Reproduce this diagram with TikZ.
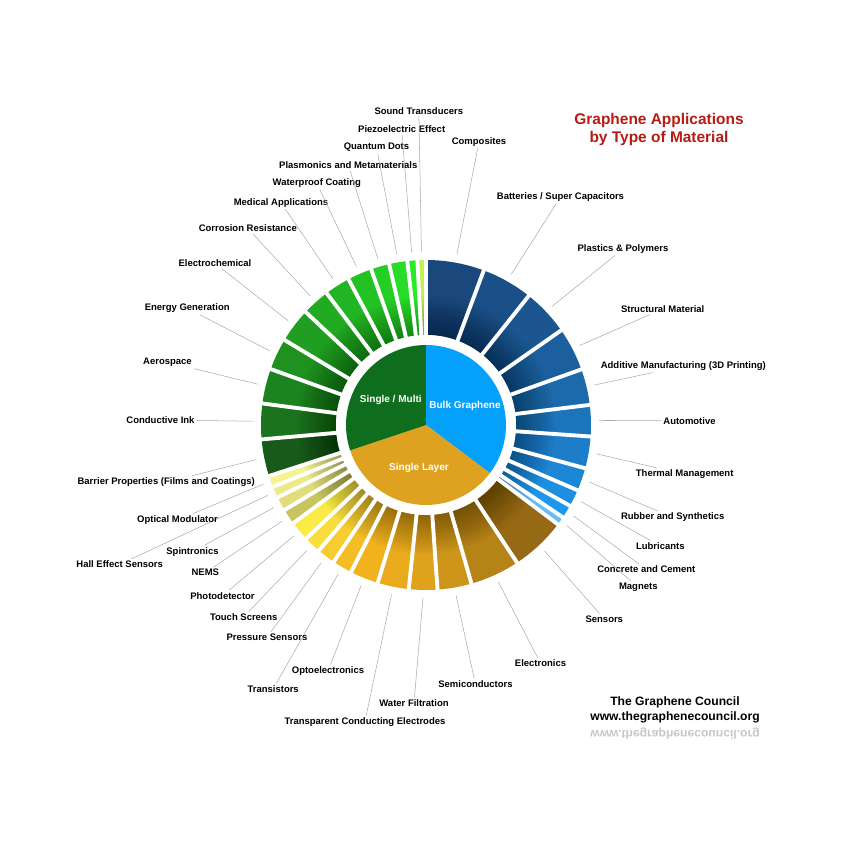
\documentclass[tikz,border=0pt]{standalone}
\usepackage{fontspec}
\setmainfont{Liberation Sans}
\definecolor{bulkdark}{RGB}{26,72,125}
\definecolor{bulklight}{RGB}{30,150,235}
\definecolor{magnetblue}{RGB}{100,190,245}
\definecolor{bulkblue}{RGB}{5,160,250}
\definecolor{darkgold}{RGB}{150,105,20}
\definecolor{amber}{RGB}{242,178,30}
\definecolor{brightyellow}{RGB}{250,235,70}
\definecolor{oliveyellow}{RGB}{200,196,95}
\definecolor{paleyellow}{RGB}{245,242,145}
\definecolor{layergold}{RGB}{222,162,32}
\definecolor{darkgreen}{RGB}{24,90,26}
\definecolor{brightgreen}{RGB}{40,235,40}
\definecolor{limegreen}{RGB}{195,240,80}
\definecolor{multigreen}{RGB}{15,110,30}
\definecolor{titlered}{RGB}{180,28,20}

% name / start angle / end angle / colour / label / label x / label y
\newcommand{\applist}{%
composites/90/69.5/bulkdark/Composites/53/283.3,
batteries/69.5/51.5/bulklight!8!bulkdark/{Batteries / Super Capacitors}/134.5/228,
plastics/51.5/35/bulklight!18!bulkdark/Plastics \& Polymers/197/176,
structural/35/19.7/bulklight!30!bulkdark/Structural Material/236.7/116,
additive/19.7/7/bulklight!42!bulkdark/Additive Manufacturing (3D Printing)/257.3/59,
automotive/7/-4/bulklight!56!bulkdark/Automotive/263.5/4.3,
thermal/-4/-15.2/bulklight!68!bulkdark/Thermal Management/258.7/-49.3,
rubber/-15.2/-23.3/bulklight!80!bulkdark/Rubber and Synthetics/246.7/-92.3,
lubricants/-23.3/-29.3/bulklight!90!bulkdark/Lubricants/234.3/-121,
concrete/-29.3/-34/bulklight/Concrete and Cement/220.3/-144.3,
magnets/-34/-37/magnetblue/Magnets/212.3/-162.3,
sensors/-37/-56.5/darkgold/Sensors/178.3/-194,
electronics/-56.5/-74/amber!35!darkgold/Electronics/114.5/-238.3,
semiconductors/-74/-86/amber!60!darkgold/Semiconductors/49.5/-259.3,
water/-86/-96/amber!78!darkgold/Water Filtration/-12/-278,
electrodes/-96/-107/amber!90!darkgold/Transparent Conducting Electrodes/-61/-296.7,
opto/-107/-117/amber/Optoelectronics/-98/-246,
transistors/-117/-124/brightyellow!20!amber/Transistors/-152.8/-264,
pressure/-124/-130.5/brightyellow!45!amber/Pressure Sensors/-159/-212.3,
touch/-130.5/-136.5/brightyellow!75!amber/Touch Screens/-182.3/-192,
photo/-136.5/-143.5/brightyellow/Photodetector/-203.5/-170.7,
nems/-143.5/-149/oliveyellow/NEMS/-220.7/-147.7,
spin/-149/-154/paleyellow!55!oliveyellow/Spintronics/-233.5/-126.7,
hall/-154/-158/paleyellow!80!oliveyellow/Hall Effect Sensors/-306.3/-139.3,
optmod/-158/-162/paleyellow/Optical Modulator/-248.5/-95,
barrier/-162/-175/darkgreen/Barrier Properties (Films and Coatings)/-259.8/-57.3,
ink/-175/-187.5/brightgreen!18!darkgreen/Conductive Ink/-265.5/5,
aero/-187.5/-199.8/brightgreen!28!darkgreen/Aerospace/-258.5/62.7,
energy/-199.8/-211/brightgreen!38!darkgreen/Energy Generation/-238.8/116.7,
electrochem/-211/-223.2/brightgreen!47!darkgreen/Electrochemical/-211/161.7,
corrosion/-223.2/-233/brightgreen!55!darkgreen/Corrosion Resistance/-178.2/196.7,
medical/-233/-242/brightgreen!63!darkgreen/Medical Applications/-145/222.3,
waterproof/-242/-250.6/brightgreen!72!darkgreen/Waterproof Coating/-109.2/241.7,
plasmonics/-250.6/-257.1/brightgreen!80!darkgreen/Plasmonics and Metamaterials/-77.7/260,
qdots/-257.1/-263.5/brightgreen!90!darkgreen/Quantum Dots/-49.5/277.7,
piezo/-263.5/-267/brightgreen/Piezoelectric Effect/-24.3/296,
sound/-267/-270/limegreen/Sound Transducers/-7.2/314.3}

\begin{document}
\begin{tikzpicture}[
    x=0.02cm,y=0.02cm,
    seglabel/.style={font=\fontsize{5.4}{6.5}\selectfont\bfseries,inner sep=1pt},
    leader/.style={gray!65,line width=0.3pt},
    gapline/.style={white,line width=2.2pt},
    pielabel/.style={text=white,font=\fontsize{5.7}{7}\selectfont\bfseries},
]

% Background
\fill[white] (-426,-424) rectangle (424,425);

% Outer ring
\foreach \nm/\sa/\ea/\col/\lbl/\lx/\ly in \applist
  \fill[\col] (\sa:90) arc[start angle=\sa,end angle=\ea,radius=90] -- (\ea:165) arc[start angle=\ea,end angle=\sa,radius=165] -- cycle;

% Shadow of the inner ring
\foreach \r in {91,93,...,129}
  \fill[black,opacity=0.02] (0,0) circle[radius=\r];

% Gaps, labels and leaders
\foreach \nm/\sa/\ea/\col/\lbl/\lx/\ly in \applist {
  \draw[gapline] (\sa:84) -- (\sa:168);
  \coordinate (\nm-end) at ({(\sa+\ea)/2}:173);
  \node[seglabel] (\nm) at (\lx,\ly) {\lbl};
  \draw[leader] (\nm-end) -- (\nm);
}

% Pie
\fill[white] (0,0) circle[radius=90];
\fill[bulkblue] (0,0) -- (90:80) arc[start angle=90,end angle=-37,radius=80] -- cycle;
\fill[layergold] (0,0) -- (-37:80) arc[start angle=-37,end angle=-161.5,radius=80] -- cycle;
\fill[multigreen] (0,0) -- (-161.5:80) arc[start angle=-161.5,end angle=-270,radius=80] -- cycle;

\node[pielabel] (multi) at (-35.2,25) {Single / Multi};
\node[pielabel] (bulk) at (39,19.3) {Bulk Graphene};
\node[pielabel] (layer) at (-7,-42.7) {Single Layer};

% Title
\node[font=\fontsize{8.8}{10.2}\selectfont\bfseries,text=titlered,align=center] (title) at (233,295.5) {Graphene Applications\\by Type of Material};

% Council
\node[font=\fontsize{6.9}{8.3}\selectfont\bfseries,align=center] (council) at (249,-285) {The Graphene Council\\www.thegraphenecouncil.org};
\node[font=\fontsize{6.9}{8.3}\selectfont\bfseries,text=black!22] (mirror) at (249,-308.5) {\scalebox{1}[-1]{www.thegraphenecouncil.org}};

\end{tikzpicture}
\end{document}
